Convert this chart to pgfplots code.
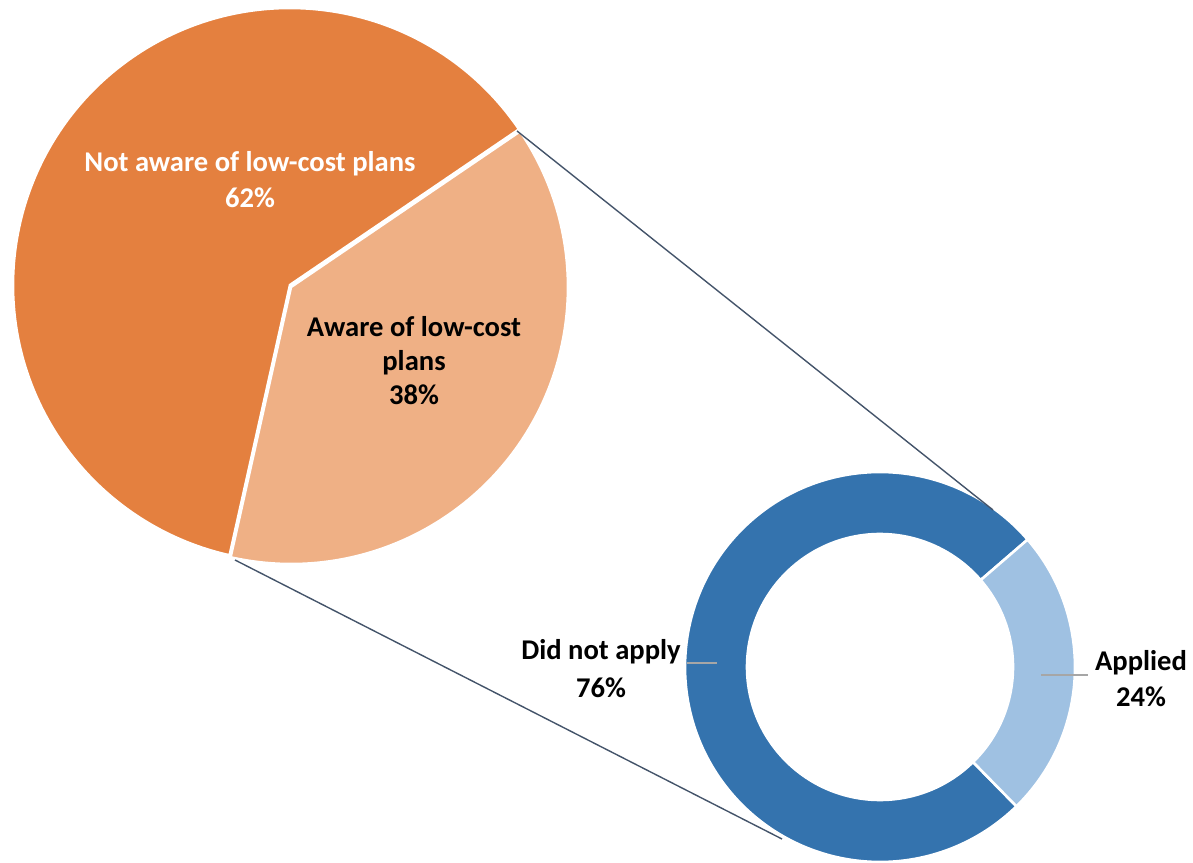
\documentclass[border=0pt]{standalone}
\usepackage{pgfplots}
\usepackage{pgfplotstable}
\pgfplotsset{compat=1.18}
\usepackage{fontspec}
\setmainfont{Carlito}
\definecolor{orangeD}{HTML}{E4803F}
\definecolor{orangeL}{HTML}{EFB085}
\definecolor{blueD}{HTML}{3473AE}
\definecolor{blueL}{HTML}{9FC1E2}
\definecolor{conn}{HTML}{44546A}
\definecolor{lead}{HTML}{A6A6A6}

\pgfplotstableread{
label value
NotAware 62
Aware 38
}\pietbl
\pgfplotstableread{
label value
DidNotApply 76
Applied 24
}\donuttbl

\pgfplotstablegetelem{0}{value}\of\pietbl \let\vNot\pgfplotsretval
\pgfplotstablegetelem{1}{value}\of\pietbl \let\vAw\pgfplotsretval
\pgfplotstablegetelem{0}{value}\of\donuttbl \let\vDid\pgfplotsretval
\pgfplotstablegetelem{1}{value}\of\donuttbl \let\vApp\pgfplotsretval

% pie angles
\pgfmathsetmacro{\pA}{34.2}
\pgfmathsetmacro{\pB}{\pA-3.6*\vAw}
\pgfmathsetmacro{\pC}{\pA+3.6*\vNot}
% donut angles
\pgfmathsetmacro{\dA}{40.8}
\pgfmathsetmacro{\dB}{\dA-3.6*\vApp}
\pgfmathsetmacro{\dC}{\dA+3.6*\vDid}

\begin{document}
\begin{tikzpicture}
\begin{axis}[
  width=596.5pt, height=431pt, scale only axis,
  xmin=0, xmax=1193, ymin=0, ymax=862,
  hide axis, clip=false,
]
% pie
\fill[orangeD, draw=white, line width=1.3pt] (axis cs:290,577) -- ++(\pA:138.5pt) arc[start angle=\pA, end angle=\pC, radius=138.5pt] -- cycle;
\fill[orangeL, draw=white, line width=1.3pt] (axis cs:291,575) -- ++(\pB:138.5pt) arc[start angle=\pB, end angle=\pA, radius=138.5pt] -- cycle;
% donut
\fill[blueD, draw=white, line width=1.3pt] ([shift={(\dA:97.5pt)}]axis cs:880,195) arc[start angle=\dA, end angle=\dC, radius=97.5pt] -- ([shift={(\dC:66.5pt)}]axis cs:880,195) arc[start angle=\dC, end angle=\dA, radius=66.5pt] -- cycle;
\fill[blueL, draw=white, line width=1.3pt] ([shift={(\dB:97.5pt)}]axis cs:880,195) arc[start angle=\dB, end angle=\dA, radius=97.5pt] -- ([shift={(\dA:66.5pt)}]axis cs:880,195) arc[start angle=\dA, end angle=\dB, radius=66.5pt] -- cycle;
% connector lines
\addplot[conn, line width=0.7pt] coordinates {(517,731) (993,352)};
\addplot[conn, line width=0.7pt] coordinates {(235,302) (782,23)};
% leader lines
\addplot[lead, line width=0.7pt] coordinates {(687,199) (717,199)};
\addplot[lead, line width=0.7pt] coordinates {(1041,187) (1088,187)};
% labels
\node[align=center, text=white, font=\fontsize{14.3}{18}\selectfont\bfseries] at (axis cs:250,682.5) {Not aware of low-cost plans\\62\%};
\node[align=center, text=black, font=\fontsize{14.3}{17}\selectfont\bfseries] at (axis cs:414,501) {Aware of low-cost\\plans\\38\%};
\node[align=center, text=black, font=\fontsize{14.3}{19}\selectfont\bfseries] at (axis cs:601,193.5) {Did not apply\\76\%};
\node[align=center, text=black, font=\fontsize{14.3}{18}\selectfont\bfseries] at (axis cs:1141,183) {Applied\\24\%};
\end{axis}
\pgfresetboundingbox
\path[use as bounding box] (current axis.south west) rectangle (current axis.north east);
\end{tikzpicture}
\end{document}
